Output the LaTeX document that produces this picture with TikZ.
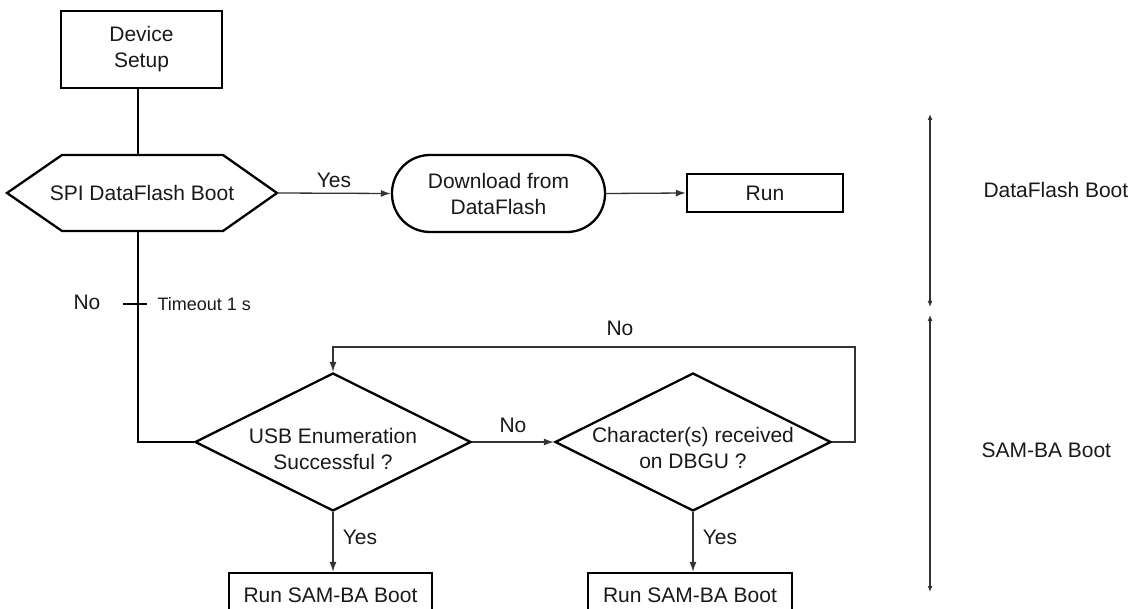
\documentclass[tikz,border=0pt]{standalone}
\usepackage{fontspec}
\setmainfont{Liberation Sans}
\usetikzlibrary{shapes.geometric,arrows.meta}
\begin{document}
\begin{tikzpicture}[x=1pt,y=-1pt,
  every node/.style={text=black!90, font=\fontsize{21}{26}\selectfont},
  shapeline/.style={draw=black, line width=2.3pt},
  box/.style={shapeline, rectangle, inner sep=0pt, align=center},
  dia/.style={shapeline, diamond, aspect=2, inner sep=0pt, minimum width=276, minimum height=138},
  thickline/.style={draw=black, line width=2.3pt},
  conn/.style={draw=black!80, line width=1.3pt},
  arr/.style={-{Latex[length=10pt,width=7pt]}},
  darr/.style={{Latex[length=6pt,width=5pt]}-{Latex[length=6pt,width=5pt]}},
  small/.style={font=\fontsize{18}{22}\selectfont}
]
\useasboundingbox (0,0) rectangle (1133,609);
\begin{scope}
\clip (0,0) rectangle (1133,609);
% Device setup
\node[box, minimum width=161, minimum height=77] (setup) at (141.5,49.5) {Device\\Setup};
% Hexagon decision
\draw[shapeline] (7,193) -- (62,155) -- (223,155) -- (277,193) -- (223,231) -- (62,231) -- cycle;
\node (spi) at (142,193) {SPI DataFlash Boot};
\coordinate (spiL) at (7,193);
\coordinate (spiR) at (277,193);
\coordinate (spiT) at (138,155);
\coordinate (spiB) at (138,231);
% Download terminator
\node[shapeline, rectangle, rounded corners=38pt, minimum width=213, minimum height=77, inner sep=0pt, align=center] (dl) at (498.5,193.5) {Download from\\DataFlash};
% Run
\node[box, minimum width=156, minimum height=38] (run) at (765,193) {Run};
% Diamonds
\node[dia] (usb) at (333,442) {};
\node[align=center] (usbt) at (333,449) {USB Enumeration\\Successful ?};
\node[dia] (chr) at (693,442) {};
\node[align=center] (chrt) at (693,448) {Character(s) received\\on DBGU ?};
% Run SAM-BA boxes
\node[box, minimum width=203, minimum height=44] (run1) at (330.5,595) {Run SAM-BA Boot};
\node[box, minimum width=204, minimum height=44] (run2) at (690,595) {Run SAM-BA Boot};
\end{scope}

% connectors
\draw[thickline] (spiT |- setup.south) -- (spiT);
\draw[conn,arr] (spiR) -- (dl.west) node[midway, above=2pt] (yes1) {Yes};
\draw[conn,arr] (dl.east) -- (run.west);
\draw[thickline] (spiB) -- (spiB |- usb.west) -- (usb.west);
\coordinate (tick) at (138,304);
\draw[thickline] ([xshift=-15pt]tick) -- ([xshift=9pt]tick);
\node (no1) at (87,302) {No};
\node[small, anchor=west] (tmo) at (154,304) {Timeout 1 s};

\draw[conn,arr] (usb.east) -- (chr.west) node[midway, above=5pt] (no2) {No};
\coordinate (loopR) at (855,347);
\draw[conn,arr] (chr.east) -| (loopR) -| (usb.north);
\node (no3) at (620,328) {No};

\draw[conn,arr] (usb.south) -- (usb.south |- run1.north);
\node (yes2) at (360,537) {Yes};
\draw[conn,arr] (chr.south) -- (chr.south |- run2.north);
\node (yes3) at (720,537) {Yes};

% phase brackets
\coordinate (a1) at (930,114);
\coordinate (a2) at (930,307);
\coordinate (b1) at (930,315);
\coordinate (b2) at (930,592);
\draw[conn,darr] (a1) -- (a2);
\draw[conn,darr] (b1) -- (b2);
\node[anchor=west] (lab1) at (980,190) {DataFlash Boot};
\node[anchor=west] (lab2) at (978,450) {SAM-BA Boot};
\end{tikzpicture}
\end{document}
